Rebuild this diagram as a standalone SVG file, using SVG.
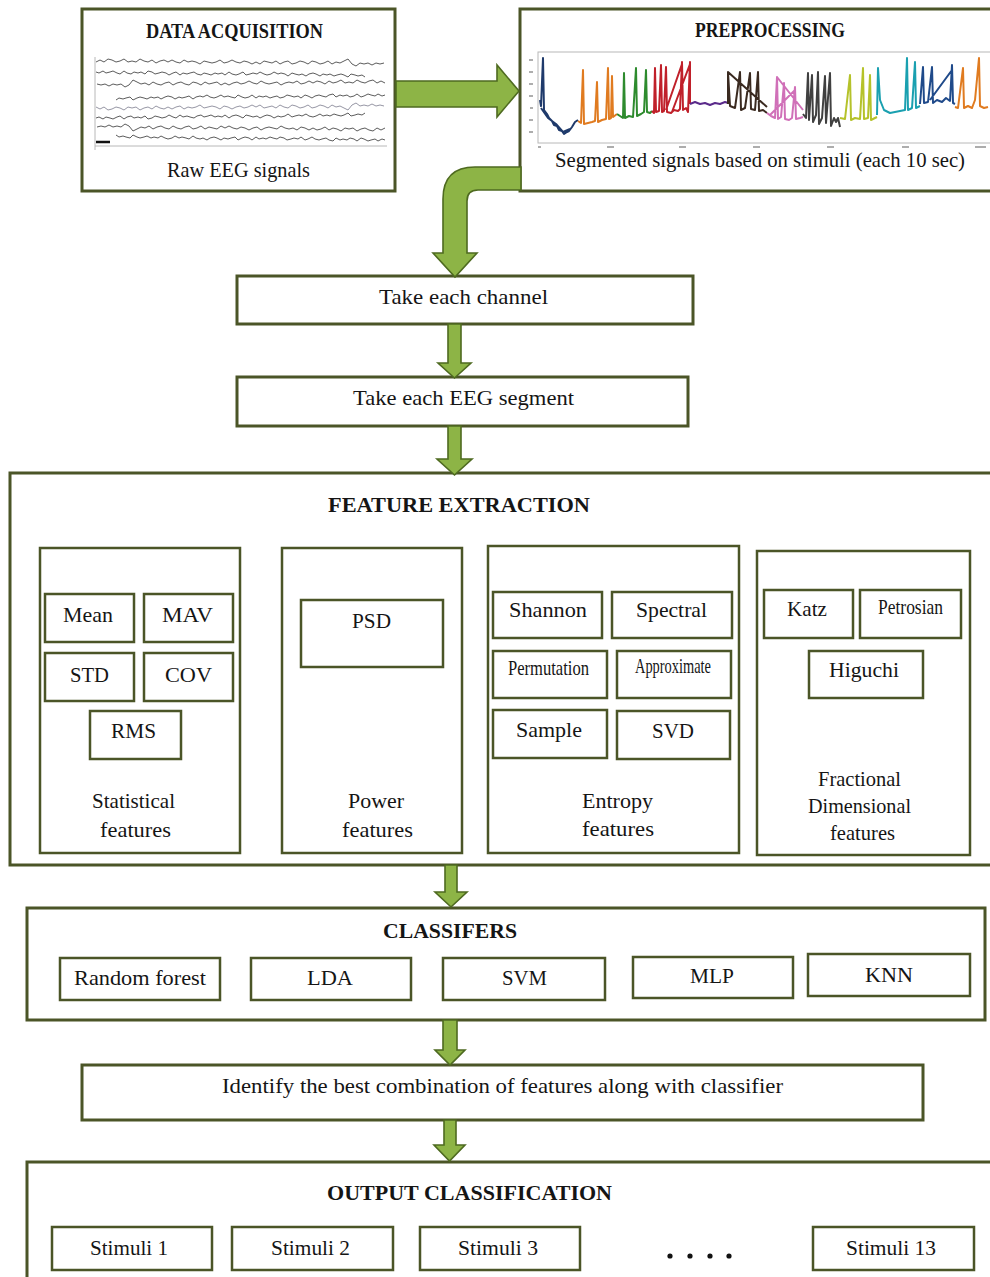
<svg xmlns="http://www.w3.org/2000/svg" xmlns:xlink="http://www.w3.org/1999/xlink" width="990" height="1277" viewBox="0 0 990 1277">
<style>
.box{fill:#fff;stroke:#4b5527;stroke-width:3}
.ib{fill:#fff;stroke:#4b5527;stroke-width:2.5}
.t{font-family:"Liberation Serif","Times New Roman",serif;fill:#151515;text-anchor:middle;font-size:21px}
.b{font-weight:bold}
.arr{fill:#8db446;stroke:#4e6a20;stroke-width:1.6;stroke-linejoin:miter}
.eeg{fill:none;stroke:#4a4a4a;stroke-width:0.9}
.sig{fill:none;stroke-width:2;stroke-linejoin:round}
.ax{stroke:#b8b8b8;stroke-width:1;fill:none}
.tk{stroke:#777;stroke-width:1.2}
</style>
<defs>
<path id="wA" d="M0,0 l4,-2 4,2 4,-3 4,1 4,2 4,-1 4,-2 4,3 4,-1 4,1 4,-3 4,2 4,1 4,-2 4,3 4,-2 4,-1 4,2 4,-2 4,2 4,1 4,-3 4,2 4,-1 4,1 4,2 4,-3 4,1 4,1 4,-1 4,-2 4,3 4,-1 4,-2 4,2 4,1 4,-2 4,1 4,2 4,-2 4,2 4,-3 4,1 4,1 4,-2 4,3 4,-2 4,-1 4,3 4,-1 4,-2 4,1 4,2 4,-3 4,1 4,2 4,-1 4,-2 4,3 4,-2 4,1 4,-2 4,-2 4,5 4,2 4,-3 4,1 4,-1 4,2 4,-2 4,1 4,-1"/>
<path id="wB" d="M0,0 l3,1 4,-2 3,2 4,-1 3,-1 4,2 3,1 4,-3 3,2 4,1 3,-2 4,1 3,-1 4,2 3,-3 4,1 3,2 4,-1 3,-1 4,1 3,2 4,-2 3,-1 4,3 3,-2 4,1 3,-1 4,-1 3,2 4,1 3,-2 4,1 3,1 4,-2 3,1 4,-1 3,2 4,-3 3,2 4,1 3,-1 4,-2 3,3 4,-1 3,-1 4,1 3,-2 4,2 3,1 4,-1 3,-2 4,2 3,-1 4,1 3,2 4,-3 3,1 4,1 3,-1 4,2 3,-2 4,-1 3,1 4,2 3,-2 4,1 3,-1 4,2 3,-1 4,-1 3,1 4,2 3,-3 4,1 3,1 4,-1 3,2"/>
</defs>
<rect width="990" height="1277" fill="#fff"/>

<g id="data-acquisition">
<rect class="box" x="82" y="9" width="313" height="182"/>
<text class="t b" x="234.5" y="38" font-size="17" textLength="177" lengthAdjust="spacingAndGlyphs">DATA ACQUISITION</text>
<line class="ax" x1="95" y1="57" x2="95" y2="150"/>
<line class="ax" x1="95" y1="146" x2="387" y2="146"/>
<line x1="96" y1="142" x2="110" y2="142" stroke="#111" stroke-width="2.5"/>
<use xlink:href="#wA" class="eeg" transform="translate(96,62)"/>
<use xlink:href="#wB" class="eeg" transform="translate(96,72)"/>
<use xlink:href="#wA" class="eeg" transform="translate(385,83) scale(-1,1)"/>
<use xlink:href="#wB" class="eeg" transform="translate(385,95) scale(-1,1)"/>
<use xlink:href="#wA" class="eeg" transform="translate(96,107) scale(1,-1)" style="stroke:#8a8a9a"/>
<use xlink:href="#wB" class="eeg" transform="translate(96,118) scale(1,-1)"/>
<use xlink:href="#wA" class="eeg" transform="translate(385,128) scale(-1,-1)"/>
<use xlink:href="#wB" class="eeg" transform="translate(385,140) scale(-1,-1)"/>
<text class="t" x="238.5" y="177" font-size="19" textLength="143" lengthAdjust="spacingAndGlyphs">Raw EEG signals</text>
</g>

<g id="preprocessing">
<rect class="box" x="520" y="9" width="475" height="182"/>
<text class="t b" x="770" y="37" font-size="17" textLength="150" lengthAdjust="spacingAndGlyphs">PREPROCESSING</text>
<rect class="ax" x="538" y="52" width="455" height="91"/>
<g class="tk">
<line x1="529" y1="60" x2="533" y2="60"/><line x1="529" y1="72" x2="533" y2="72"/><line x1="529" y1="84" x2="533" y2="84"/><line x1="529" y1="96" x2="533" y2="96"/><line x1="530" y1="108" x2="533" y2="108"/><line x1="529" y1="120" x2="533" y2="120"/><line x1="529" y1="132" x2="533" y2="132"/>
<line x1="538" y1="147" x2="541" y2="147"/><line x1="607" y1="147" x2="614" y2="147"/><line x1="679" y1="147" x2="686" y2="147"/><line x1="753" y1="147" x2="760" y2="147"/><line x1="827" y1="147" x2="834" y2="147"/><line x1="902" y1="147" x2="909" y2="147"/><line x1="975" y1="147" x2="986" y2="147"/>
</g>
<path class="sig" stroke="#1f3a6b" d="M540,100 L541,106 L543,58 L544,110 L547,114 L549,118 L552,121 L554,125 L557,126 L559,130 L562,131 L564,134 L567,132 L569,131 L572,127 L575,122 L578,120 M541,108 L548,118 L556,124 L563,132 L570,129"/>
<path class="sig" stroke="#e07b20" d="M578,121 L581,123 L583,70 L584,124 L588,123 L592,122 L595,121 L597,82 L598,122 L602,120 L606,119 L608,68 L609,119 L611,118 L612,76 L613,117 L617,114"/>
<path class="sig" stroke="#2e8b2e" d="M617,114 L620,116 L623,118 L624,73 L625,118 L629,116 L633,117 L636,68 L637,116 L641,114 L644,112 L646,70 L647,112 L650,113 L652,111"/>
<path class="sig" stroke="#c0202a" d="M652,111 L654,113 L655,68 L656,112 L659,111 L661,65 L662,112 L664,111 L666,67 L667,112 L671,113 L674,110 L678,111 L680,109 L682,62 L683,110 L686,108 L688,112 L690,62 L690,104 M666,110 L682,64 M672,112 L690,64"/>
<path class="sig" stroke="#5a2a8a" d="M690,104 L695,102 L700,104 L705,103 L710,105 L715,103 L720,104 L725,102 L728,103"/>
<path class="sig" stroke="#3a2a20" d="M728,104 L728,72 L730,106 L735,108 L740,72 L741,110 L745,108 L750,73 L751,109 L755,110 L758,72 L759,111 L763,110 L767,113 M728,72 L767,107"/>
<path class="sig" stroke="#d070b8" d="M767,113 L771,116 L775,118 L777,77 L778,119 L781,117 L784,83 L785,119 L789,120 L792,118 L795,87 L796,119 L800,118 L803,117 M777,77 L803,110 M770,115 L795,90"/>
<path class="sig" stroke="#404040" d="M803,114 L806,118 L808,73 L809,120 L812,75 L813,122 L816,115 L818,72 L819,124 L822,118 L825,76 L826,123 L830,73 L831,126 L834,118 L836,122 L838,118 L840,127"/>
<path class="sig" stroke="#b5c22a" d="M840,118 L845,119 L850,75 L851,120 L855,118 L860,119 L863,68 L864,119 L868,118 L870,75 L871,120 L875,118 L877,117"/>
<path class="sig" stroke="#1aa0b0" d="M877,115 L878,68 L880,100 L884,110 L890,113 L895,112 L900,111 L905,110 L907,58 L908,110 L912,108 L915,62 L916,108 L920,106"/>
<path class="sig" stroke="#1f4a8a" d="M920,104 L923,67 L924,103 L928,102 L932,67 L933,103 L937,100 L942,102 L946,98 L950,101 L952,65 L953,103 L955,104 M930,100 L952,70"/>
<path class="sig" stroke="#e07b20" d="M955,107 L958,108 L963,68 L964,108 L968,106 L972,108 L975,100 L979,58 L980,106 L984,108 L988,107"/>
<text class="t" x="760" y="167" font-size="20" textLength="410" lengthAdjust="spacingAndGlyphs">Segmented signals based on stimuli (each 10 sec)</text>
</g>

<g id="take-channel">
<rect class="box" x="237" y="276" width="456" height="48"/>
<text class="t" x="463.5" y="304" font-size="22" textLength="169" lengthAdjust="spacingAndGlyphs">Take each channel</text>
</g>

<g id="take-segment">
<rect class="box" x="237" y="377" width="451" height="49"/>
<text class="t" x="463.5" y="405" font-size="22" textLength="221" lengthAdjust="spacingAndGlyphs">Take each EEG segment</text>
</g>

<g id="feature-extraction">
<rect class="box" x="10" y="473" width="995" height="392"/>
<text class="t b" x="459" y="512" font-size="21" textLength="262" lengthAdjust="spacingAndGlyphs">FEATURE EXTRACTION</text>
</g>

<g id="statistical-features">
<rect class="ib" x="40" y="548" width="200" height="305"/>
<rect class="ib" x="45" y="594" width="89" height="48"/>
<text class="t" x="88" y="622" textLength="50" lengthAdjust="spacingAndGlyphs">Mean</text>
<rect class="ib" x="144" y="594" width="89" height="48"/>
<text class="t" x="187.5" y="622" textLength="51" lengthAdjust="spacingAndGlyphs">MAV</text>
<rect class="ib" x="45" y="653" width="89" height="48"/>
<text class="t" x="89.5" y="682" textLength="39" lengthAdjust="spacingAndGlyphs">STD</text>
<rect class="ib" x="144" y="653" width="89" height="48"/>
<text class="t" x="188.5" y="682" textLength="47" lengthAdjust="spacingAndGlyphs">COV</text>
<rect class="ib" x="90" y="711" width="91" height="48"/>
<text class="t" x="133.5" y="738" textLength="45" lengthAdjust="spacingAndGlyphs">RMS</text>
<text class="t" x="133.5" y="808" textLength="83" lengthAdjust="spacingAndGlyphs">Statistical</text>
<text class="t" x="135.5" y="837" textLength="71" lengthAdjust="spacingAndGlyphs">features</text>
</g>

<g id="power-features">
<rect class="ib" x="282" y="548" width="180" height="305"/>
<rect class="ib" x="301" y="600" width="142" height="67"/>
<text class="t" x="371.5" y="628" textLength="39" lengthAdjust="spacingAndGlyphs">PSD</text>
<text class="t" x="376" y="808" textLength="56" lengthAdjust="spacingAndGlyphs">Power</text>
<text class="t" x="377.5" y="837" textLength="71" lengthAdjust="spacingAndGlyphs">features</text>
</g>

<g id="entropy-features">
<rect class="ib" x="488" y="546" width="251" height="307"/>
<rect class="ib" x="493" y="592" width="109" height="46"/>
<text class="t" x="548" y="617" textLength="78" lengthAdjust="spacingAndGlyphs">Shannon</text>
<rect class="ib" x="612" y="592" width="120" height="46"/>
<text class="t" x="671.5" y="617" textLength="71" lengthAdjust="spacingAndGlyphs">Spectral</text>
<rect class="ib" x="493" y="651" width="114" height="47"/>
<text class="t" x="548.5" y="675" font-size="16" textLength="81" lengthAdjust="spacingAndGlyphs">Permutation</text>
<rect class="ib" x="617" y="651" width="114" height="47"/>
<text class="t" x="673" y="673" font-size="14.5" textLength="76" lengthAdjust="spacingAndGlyphs">Approximate</text>
<rect class="ib" x="493" y="710" width="114" height="48"/>
<text class="t" x="549" y="737" textLength="66" lengthAdjust="spacingAndGlyphs">Sample</text>
<rect class="ib" x="617" y="711" width="113" height="48"/>
<text class="t" x="673" y="738" textLength="42" lengthAdjust="spacingAndGlyphs">SVD</text>
<text class="t" x="617.5" y="808" textLength="71" lengthAdjust="spacingAndGlyphs">Entropy</text>
<text class="t" x="618" y="836" textLength="72" lengthAdjust="spacingAndGlyphs">features</text>
</g>

<g id="fractional-features">
<rect class="ib" x="757" y="551" width="213" height="304"/>
<rect class="ib" x="764" y="590" width="89" height="48"/>
<text class="t" x="807" y="616" textLength="40" lengthAdjust="spacingAndGlyphs">Katz</text>
<rect class="ib" x="860" y="590" width="101" height="48"/>
<text class="t" x="910.5" y="614" font-size="17" textLength="65" lengthAdjust="spacingAndGlyphs">Petrosian</text>
<rect class="ib" x="809" y="651" width="114" height="47"/>
<text class="t" x="864" y="677" textLength="70" lengthAdjust="spacingAndGlyphs">Higuchi</text>
<text class="t" x="859.5" y="786" font-size="20" textLength="83" lengthAdjust="spacingAndGlyphs">Fractional</text>
<text class="t" x="859.5" y="813" font-size="20" textLength="103" lengthAdjust="spacingAndGlyphs">Dimensional</text>
<text class="t" x="862.5" y="840" font-size="20" textLength="65" lengthAdjust="spacingAndGlyphs">features</text>
</g>

<g id="classifiers">
<rect class="box" x="27" y="908" width="958" height="112"/>
<text class="t b" x="450" y="938" font-size="20" textLength="134" lengthAdjust="spacingAndGlyphs">CLASSIFERS</text>
<rect class="ib" x="60" y="958" width="160" height="42"/>
<text class="t" x="140" y="985" font-size="20" textLength="132" lengthAdjust="spacingAndGlyphs">Random forest</text>
<rect class="ib" x="251" y="958" width="160" height="42"/>
<text class="t" x="330" y="985" font-size="20" textLength="46" lengthAdjust="spacingAndGlyphs">LDA</text>
<rect class="ib" x="443" y="958" width="162" height="42"/>
<text class="t" x="524.5" y="985" font-size="20" textLength="45" lengthAdjust="spacingAndGlyphs">SVM</text>
<rect class="ib" x="633" y="957" width="160" height="41"/>
<text class="t" x="712" y="983" font-size="20" textLength="44" lengthAdjust="spacingAndGlyphs">MLP</text>
<rect class="ib" x="808" y="954" width="162" height="42"/>
<text class="t" x="889" y="982" font-size="20" textLength="48" lengthAdjust="spacingAndGlyphs">KNN</text>
</g>

<g id="best-combination">
<rect class="box" x="82" y="1065" width="841" height="55"/>
<text class="t" x="502.5" y="1093" textLength="561" lengthAdjust="spacingAndGlyphs">Identify the best combination of features along with classifier</text>
</g>

<g id="output-classification">
<rect class="box" x="27" y="1162" width="980" height="130"/>
<text class="t b" x="469.5" y="1200" font-size="20" textLength="285" lengthAdjust="spacingAndGlyphs">OUTPUT CLASSIFICATION</text>
<rect class="ib" x="52" y="1227" width="160" height="43"/>
<text class="t" x="129" y="1255" font-size="20" textLength="78" lengthAdjust="spacingAndGlyphs">Stimuli 1</text>
<rect class="ib" x="232" y="1227" width="161" height="43"/>
<text class="t" x="310.5" y="1255" font-size="20" textLength="79" lengthAdjust="spacingAndGlyphs">Stimuli 2</text>
<rect class="ib" x="420" y="1227" width="160" height="43"/>
<text class="t" x="498" y="1255" font-size="20" textLength="80" lengthAdjust="spacingAndGlyphs">Stimuli 3</text>
<g fill="#111"><circle cx="670" cy="1256" r="2.6"/><circle cx="690" cy="1256" r="2.6"/><circle cx="710" cy="1256" r="2.6"/><circle cx="729" cy="1256" r="2.6"/></g>
<rect class="ib" x="813" y="1227" width="161" height="43"/>
<text class="t" x="891" y="1255" font-size="20" textLength="90" lengthAdjust="spacingAndGlyphs">Stimuli 13</text>
</g>

<g id="connectors">
<path class="arr" d="M396,81 H497 V65 L519,91 L497,117 V107 H396 Z"/>
<path class="arr" d="M521,167 H475 Q443,167 443,199 V253 H433 L455,277 L477,253 H467 V201 Q467,190 478,190 H521 Z"/>
<path class="arr" d="M448,324 H461 V363 H471 L454.5,378 L438,363 H448 Z"/>
<path class="arr" d="M448,426 H461 V459 H472 L454.5,475 L437,459 H448 Z"/>
<path class="arr" d="M445,865 H457 V892 H467 L451,907 L435,892 H445 Z"/>
<path class="arr" d="M443,1020 H457 V1050 H465 L450,1065 L435,1050 H443 Z"/>
<path class="arr" d="M444,1120 H456 V1145 H465 L449.5,1161 L434,1145 H444 Z"/>
</g>
</svg>
